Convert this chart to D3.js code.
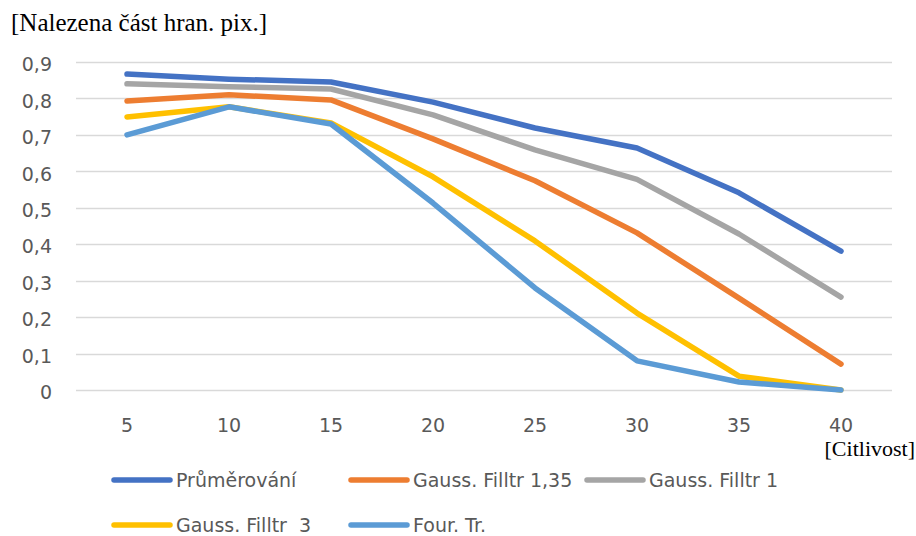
<!DOCTYPE html>
<html><head><meta charset="utf-8">
<script src="https://cdn.jsdelivr.net/npm/d3@7"></script>
<style>body{margin:0;background:#fff;} svg{display:block;}</style>
</head><body>
<script>
const categories = [5, 10, 15, 20, 25, 30, 35, 40];
const seriesNames = ["Průměrování", "Gauss. Filltr 1,35", "Gauss. Filltr 1", "Gauss. Filltr  3", "Four. Tr."];
const seriesColors = ["#4472C4", "#ED7D31", "#A5A5A5", "#FFC000", "#5B9BD5"];
const prumerovani = [0.867, 0.853, 0.845, 0.790, 0.719, 0.664, 0.541, 0.381];
const gauss135   = [0.793, 0.810, 0.796, 0.689, 0.574, 0.431, 0.252, 0.071];
const gauss1     = [0.840, 0.832, 0.826, 0.755, 0.659, 0.578, 0.428, 0.255];
const gauss3     = [0.749, 0.777, 0.733, 0.585, 0.409, 0.211, 0.038, 0.000];
const fourTr     = [0.700, 0.777, 0.730, 0.513, 0.280, 0.080, 0.022, 0.000];
const yTicks = [0, 0.1, 0.2, 0.3, 0.4, 0.5, 0.6, 0.7, 0.8, 0.9];
const yTitle = "[Nalezena část hran. pix.]";
const xTitle = "[Citlivost]";
const seriesData = [prumerovani, gauss135, gauss1, gauss3, fourTr];

const W = 916, H = 536;
const svg = d3.select("body").append("svg").attr("width", W).attr("height", H);
const tickFont = "'DejaVu Sans', sans-serif";
const serif = "'Liberation Serif', 'DejaVu Serif', serif";
const gray = "#595959";

const x = d3.scaleBand().domain(categories).range([76, 892]);
const y = d3.scaleLinear().domain([0, 0.9]).range([390, 62]);

// grid
svg.append("g").selectAll("line").data(yTicks).join("line")
  .attr("x1", 76).attr("x2", 892)
  .attr("y1", d => Math.round(y(d)) + 0.5).attr("y2", d => Math.round(y(d)) + 0.5)
  .attr("stroke", "#D9D9D9").attr("stroke-width", 1.5);

// y axis labels
const yAxis = d3.axisLeft(y).tickValues(yTicks).tickSize(0).tickPadding(0)
  .tickFormat(d => d3.format(".1f")(d).replace(".", ",").replace(/^0,0$/, "0"));
const gy = svg.append("g").attr("transform", "translate(52,0)").call(yAxis);
gy.select(".domain").remove();
gy.selectAll("text").attr("font-family", tickFont).attr("font-size", 19).attr("fill", gray).attr("dy", "0.46em");

// x axis labels
const xAxis = d3.axisBottom(x).tickSize(0).tickPadding(0);
const gx = svg.append("g").attr("transform", "translate(0,418)").call(xAxis);
gx.select(".domain").remove();
gx.selectAll("text").attr("font-family", tickFont).attr("font-size", 19).attr("fill", gray);

// lines
const line = d3.line().x((d, i) => x(categories[i]) + x.bandwidth() / 2).y(d => y(d));
svg.append("g").selectAll("path").data(seriesData).join("path")
  .attr("d", line).attr("fill", "none")
  .attr("stroke", (d, i) => seriesColors[i])
  .attr("stroke-width", 5.5).attr("stroke-linecap", "round").attr("stroke-linejoin", "round");

// titles
svg.append("text").attr("x", 11).attr("y", 31).text(yTitle)
  .attr("font-family", serif).attr("font-size", 25).attr("fill", "#000");
svg.append("text").attr("x", 915).attr("y", 456).attr("text-anchor", "end").text(xTitle)
  .attr("font-family", serif).attr("font-size", 22).attr("fill", "#000");

// legend
const legendPos = [[114, 480], [351, 480], [587, 480], [114, 525], [351, 525]];
const lg = svg.append("g").selectAll("g").data(seriesNames).join("g")
  .attr("transform", (d, i) => `translate(${legendPos[i][0]},${legendPos[i][1]})`);
lg.append("line").attr("x1", 0).attr("x2", 56).attr("y1", 0).attr("y2", 0)
  .attr("stroke", (d, i) => seriesColors[i]).attr("stroke-width", 5.5).attr("stroke-linecap", "round");
lg.append("text").attr("x", 62).attr("y", 0).attr("dy", "0.35em").text(d => d)
  .attr("font-family", tickFont).attr("font-size", 19).attr("fill", gray)
  .style("white-space", "pre");
</script>
</body></html>
